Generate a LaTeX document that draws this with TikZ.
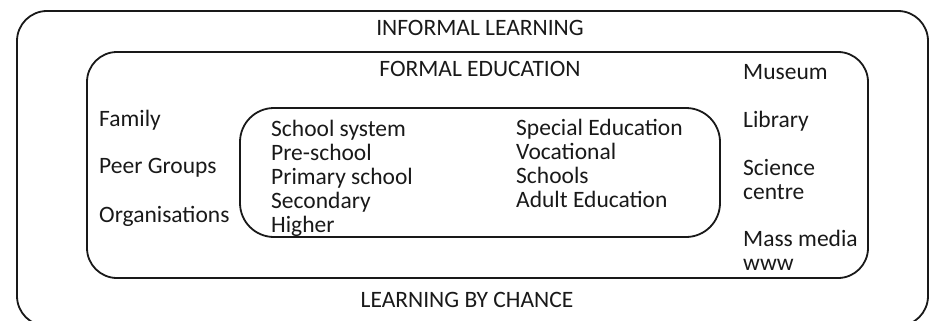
\documentclass[tikz,border=0pt]{standalone}
\usepackage{fontspec}
\setmainfont{Carlito}
\begin{document}
\begin{tikzpicture}[x=1pt,y=-1pt,
  box/.style={draw=black!90, line width=1.8pt, rounded corners=30pt},
  lbl/.style={anchor=base west, inner sep=0pt, align=left, font=\fontsize{23.5}{24}\selectfont, text=black!90},
  ttl/.style={anchor=base, inner sep=0pt, font=\fontsize{23.5}{24}\selectfont, text=black!90}]
\useasboundingbox (0,0) rectangle (929,321);
\clip (0,0) rectangle (929,321);
\draw[box] (17,11) rectangle (928,326);
\draw[box] (87,52) rectangle (868,278);
\draw[box, rounded corners=34pt] (240,108) rectangle (720,237);
\node[ttl] (inf) at (480,36) {INFORMAL LEARNING};
\node[ttl] (form) at (480,77) {FORMAL EDUCATION};
\node[ttl] (chance) at (467,307) {LEARNING BY CHANCE};
\node[lbl] (fam) at (99,126) {Family};
\node[lbl] (peer) at (99,173) {Peer Groups};
\node[lbl] (org) at (99,222) {Organisations};
\node[lbl] (school) at (271,232) {School system\\Pre-school\\Primary school\\Secondary\\Higher};
\node[lbl] (spec) at (516,207) {Special Education\\Vocational\\Schools\\Adult Education};
\node[lbl] (mus) at (743,79) {Museum};
\node[lbl] (lib) at (743,127) {Library};
\node[lbl] (sci) at (743,199) {Science\\centre};
\node[lbl] (mass) at (743,270) {Mass media\\www};
\end{tikzpicture}
\end{document}
